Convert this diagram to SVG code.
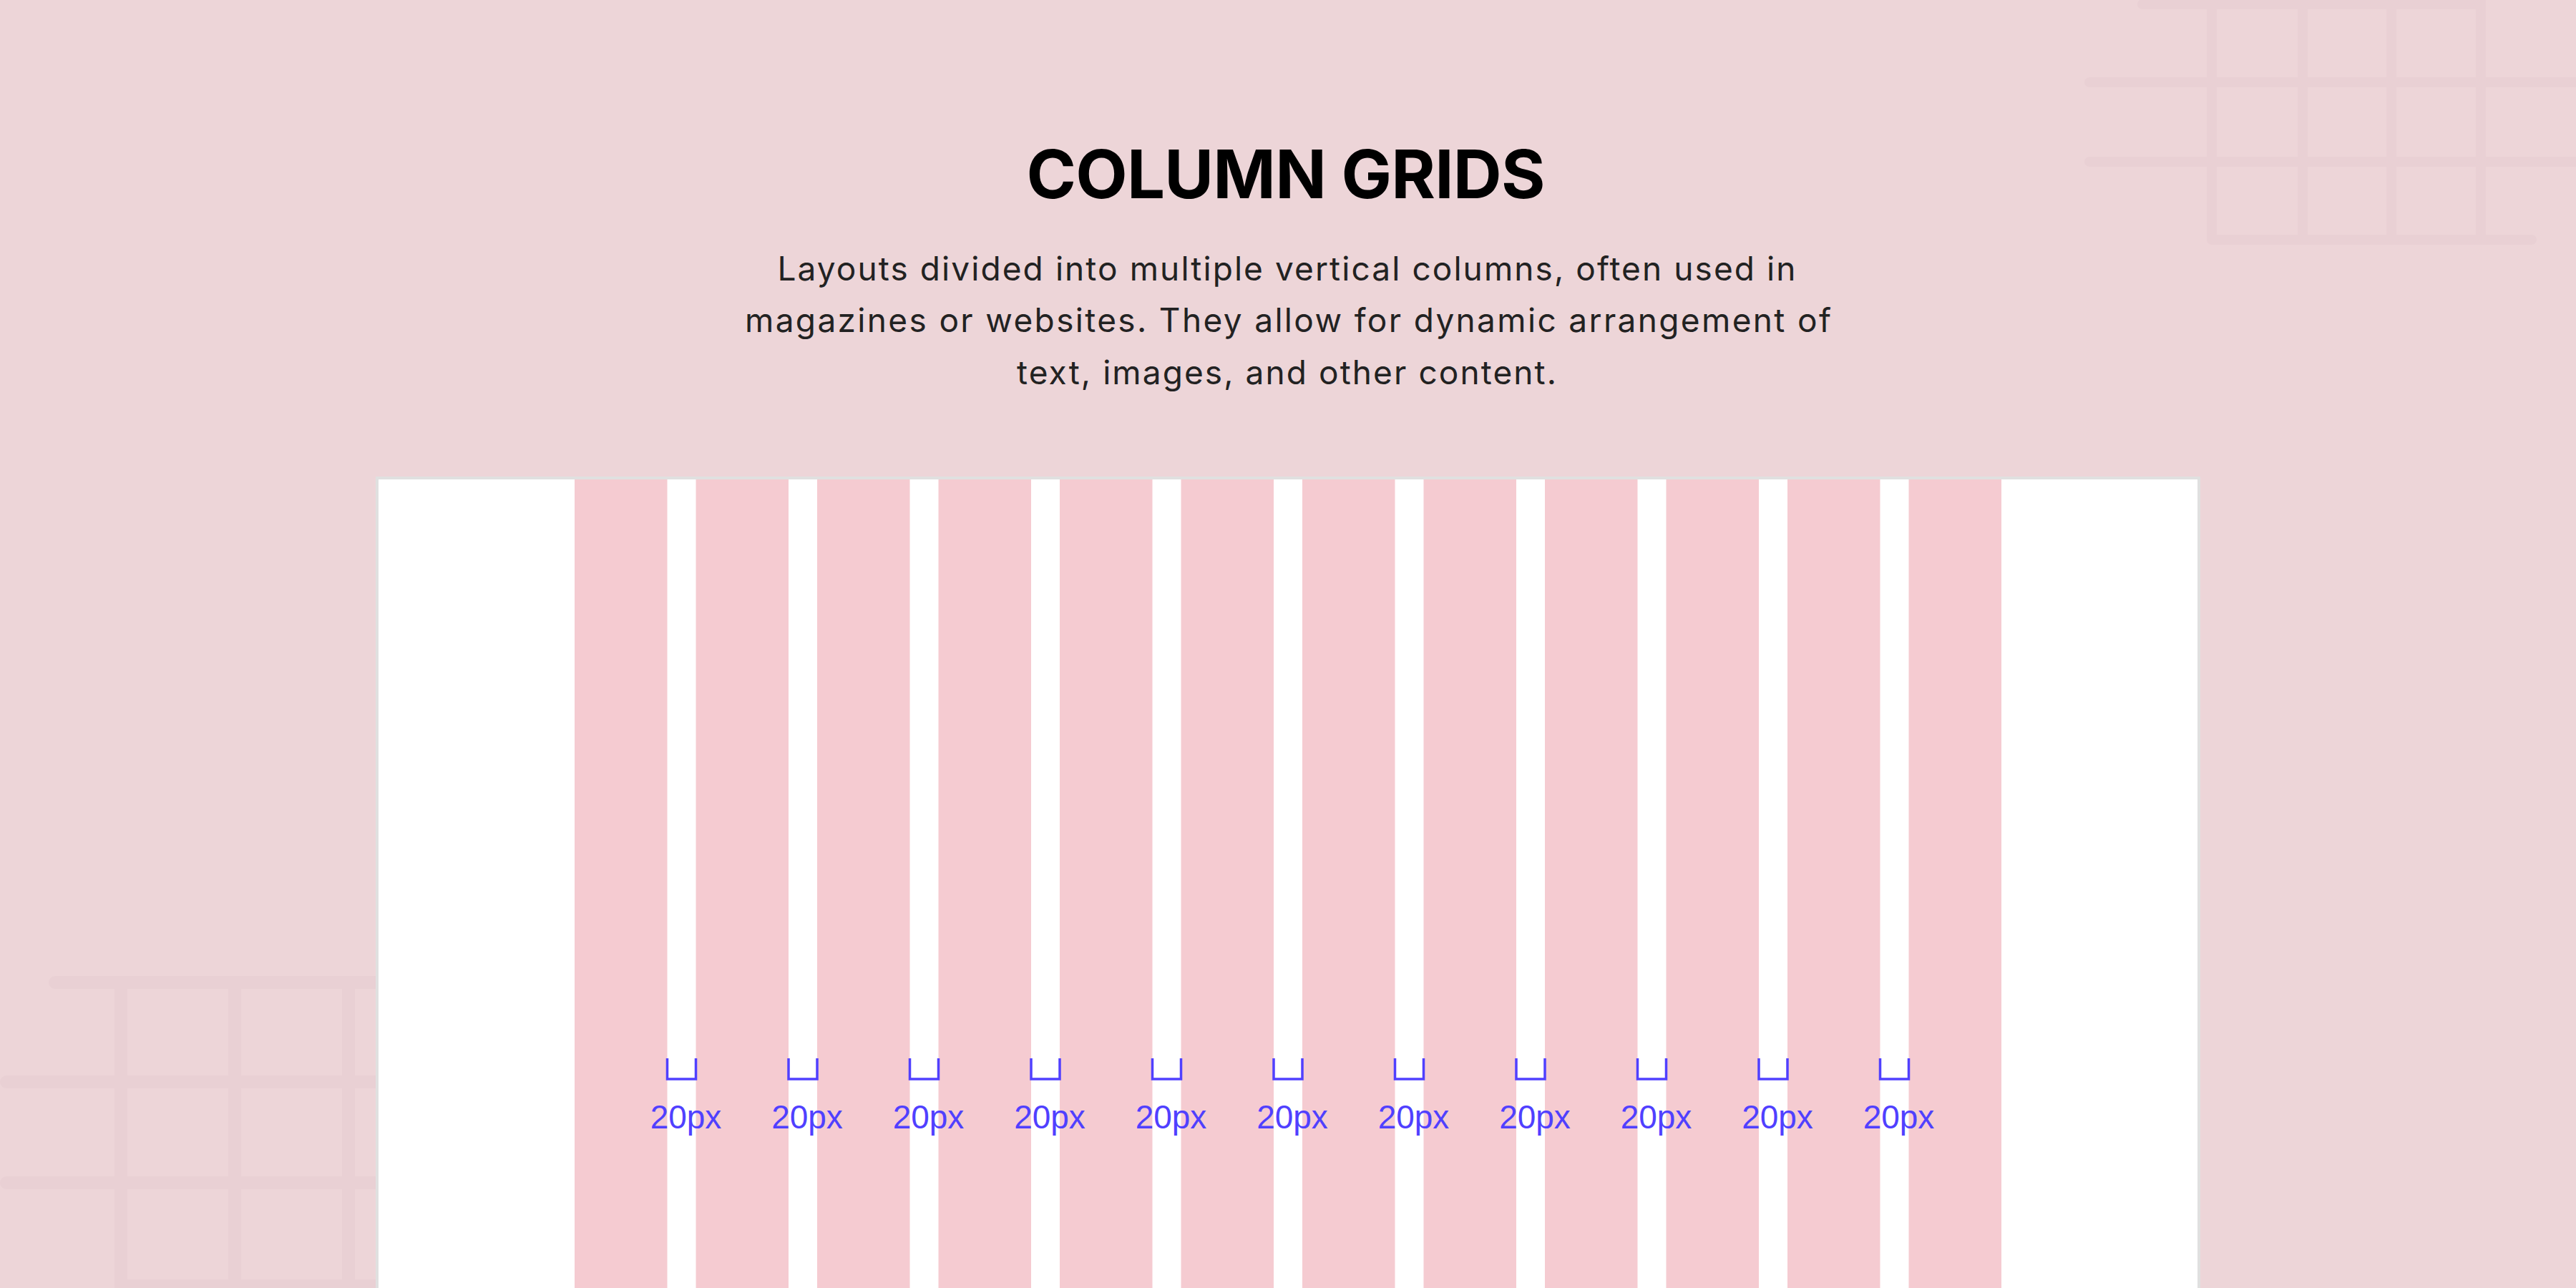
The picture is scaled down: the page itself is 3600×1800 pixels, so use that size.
<svg xmlns="http://www.w3.org/2000/svg" width="3600" height="1800" viewBox="0 0 3600 1800">
<style>
.deco{fill:none;stroke:#e9d0d4;stroke-linecap:round;stroke-linejoin:round}
.col{fill:#f5cbd1}
.br{fill:none;stroke:#5040ff;stroke-width:3.5}
.lbl{font-family:"Liberation Sans",Arial,sans-serif;font-size:46px;fill:#5040ff;text-anchor:middle}
.title{font-family:Inter,"Noto Sans",sans-serif;font-weight:700;font-size:94px;fill:#000;text-anchor:middle}
.sub{font-family:Inter,"Noto Sans",sans-serif;font-size:46px;fill:#222;text-anchor:middle}
</style>
<rect width="3600" height="1800" fill="#edd5d8"/>
<g id="deco-top-right" class="deco" stroke-width="14">
<path d="M2994,6 H3467 M2920,115 H3610 M2920,226 H3610 M3091,335 H3538 M3091,-10 V335 M3218,-10 V335 M3342,-10 V335 M3467,-10 V335"/>
</g>
<g id="deco-bottom-left" class="deco" stroke-width="18">
<path d="M77,1373 H540 M9,1512 H540 M9,1653 H540 M169,1797 H540 M169,1373 V1810 M328,1373 V1810 M487,1373 V1810"/>
</g>
<g id="header">
<text class="title" x="1797" y="277" textLength="725">COLUMN GRIDS</text>
<text class="sub" x="1798" y="392" textLength="1423">Layouts divided into multiple vertical columns, often used in</text>
<text class="sub" x="1800" y="464" textLength="1518">magazines or websites. They allow for dynamic arrangement of</text>
<text class="sub" x="1798" y="537" textLength="754">text, images, and other content.</text>
</g>
<g id="panel">
<rect x="527" y="668" width="2546" height="1200" fill="#fff" stroke="#e0e0e0" stroke-width="4"/>
</g>
<g id="columns">
<rect class="col" x="803" y="670" width="129.5" height="1130"/>
<rect class="col" x="972.5" y="670" width="129.5" height="1130"/>
<rect class="col" x="1142" y="670" width="129.5" height="1130"/>
<rect class="col" x="1311.5" y="670" width="129.5" height="1130"/>
<rect class="col" x="1481" y="670" width="129.5" height="1130"/>
<rect class="col" x="1650.5" y="670" width="129.5" height="1130"/>
<rect class="col" x="1820" y="670" width="129.5" height="1130"/>
<rect class="col" x="1989.5" y="670" width="129.5" height="1130"/>
<rect class="col" x="2159" y="670" width="129.5" height="1130"/>
<rect class="col" x="2328.5" y="670" width="129.5" height="1130"/>
<rect class="col" x="2498" y="670" width="129.5" height="1130"/>
<rect class="col" x="2667.5" y="670" width="129.5" height="1130"/>
</g>
<g id="gutter-markers">
<path class="br" d="M932.5,1479 V1508 H972.5 V1479 M1102,1479 V1508 H1142 V1479 M1271.5,1479 V1508 H1311.5 V1479 M1441,1479 V1508 H1481 V1479 M1610.5,1479 V1508 H1650.5 V1479 M1780,1479 V1508 H1820 V1479 M1949.5,1479 V1508 H1989.5 V1479 M2119,1479 V1508 H2159 V1479 M2288.5,1479 V1508 H2328.5 V1479 M2458,1479 V1508 H2498 V1479 M2627.5,1479 V1508 H2667.5 V1479"/>
<text class="lbl" x="958.5" y="1577">20px</text>
<text class="lbl" x="1128" y="1577">20px</text>
<text class="lbl" x="1297.5" y="1577">20px</text>
<text class="lbl" x="1467" y="1577">20px</text>
<text class="lbl" x="1636.5" y="1577">20px</text>
<text class="lbl" x="1806" y="1577">20px</text>
<text class="lbl" x="1975.5" y="1577">20px</text>
<text class="lbl" x="2145" y="1577">20px</text>
<text class="lbl" x="2314.5" y="1577">20px</text>
<text class="lbl" x="2484" y="1577">20px</text>
<text class="lbl" x="2653.5" y="1577">20px</text>
</g>
</svg>
